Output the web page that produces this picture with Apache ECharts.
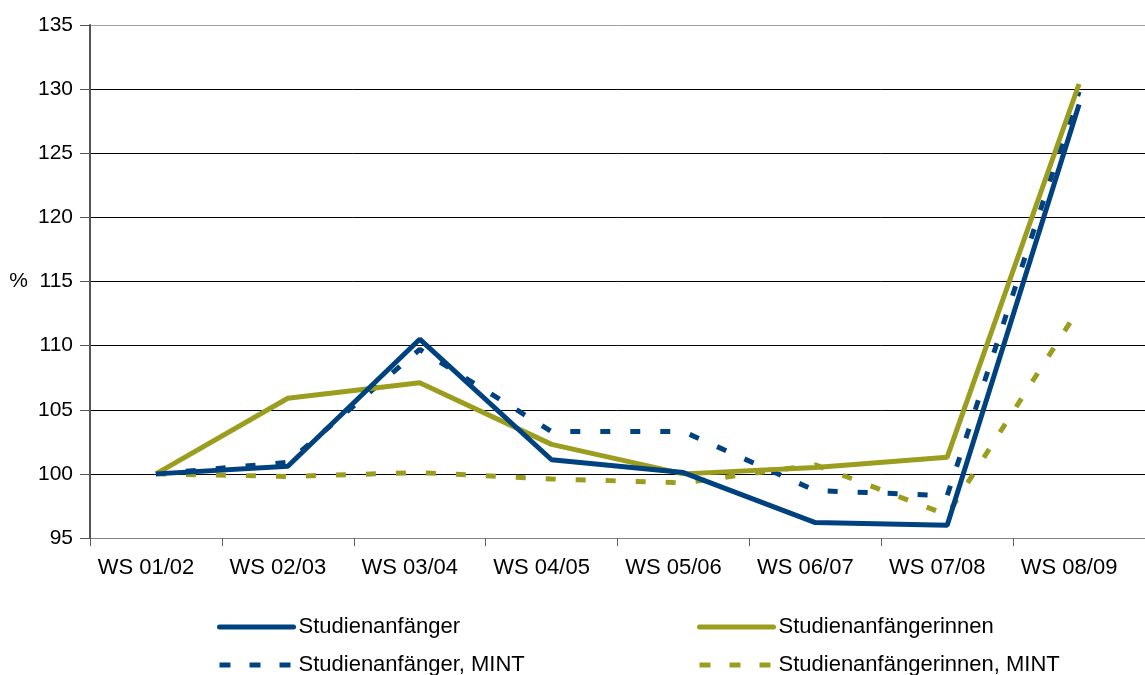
<!DOCTYPE html>
<html>
<head>
<meta charset="utf-8">
<script src="https://cdn.jsdelivr.net/npm/echarts@6/dist/echarts.min.js"></script>
<style>
  html, body { margin: 0; padding: 0; background: #fff; }
  #chart { width: 1145px; height: 675px; }
</style>
</head>
<body>
<div id="chart"></div>
<script>
const semester = ['WS 01/02', 'WS 02/03', 'WS 03/04', 'WS 04/05', 'WS 05/06', 'WS 06/07', 'WS 07/08', 'WS 08/09'];
const anfaenger = [100, 100.6, 110.5, 101.1, 100.1, 96.2, 96.0, 128.8];
const anfaengerinnen = [100, 105.9, 107.1, 102.3, 100.0, 100.5, 101.3, 130.4];
const anfaengerMint = [100, 100.9, 109.7, 103.3, 103.3, 98.7, 98.3, 129.8];
const anfaengerinnenMint = [100, 99.8, 100.1, 99.6, 99.3, 100.7, 96.8, 112.9];

const blau = '#00427f';
const oliv = '#9b9d1f';
const schrift = 'Liberation Sans, Arial, sans-serif';
const strich = [10, 20];

const chart = echarts.init(document.getElementById('chart'));

const linie = (name, data, color, dashed) => ({
  name: name,
  type: 'line',
  data: data,
  symbol: 'none',
  lineStyle: {
    color: color,
    width: 5,
    type: dashed ? strich : 'solid',
    cap: 'butt'
  },
  itemStyle: { color: color }
});

// eine Legende je Eintrag, damit die Spalten fest stehen
const legende = (name, color, dashed, left, top) => ({
  orient: 'horizontal',
  left: left,
  top: top,
  padding: 0,
  itemWidth: 74,
  itemHeight: 14,
  itemStyle: { opacity: 0 },
  lineStyle: { width: 5, color: color, type: dashed ? [11, 19] : 'solid', cap: dashed ? 'butt' : 'round' },
  textStyle: { color: '#000', fontSize: 22, fontFamily: schrift },
  data: [name]
});

chart.setOption({
  animation: false,
  textStyle: { fontFamily: schrift },
  grid: { left: 90, top: 25, right: -12, bottom: 137 },
  xAxis: {
    type: 'category',
    data: semester,
    boundaryGap: true,
    axisLine: { lineStyle: { color: '#808080', width: 1 } },
    axisTick: { show: true, length: 8, lineStyle: { color: '#606060' } },
    axisLabel: { color: '#000', fontSize: 22, margin: 19, padding: [0, 20, 0, 0], fontFamily: schrift },
    splitLine: { show: false }
  },
  yAxis: {
    type: 'value',
    min: 95,
    max: 135,
    interval: 5,
    name: '%',
    nameLocation: 'middle',
    nameRotate: 0,
    nameGap: 62,
    nameTextStyle: { color: '#000', fontSize: 21, fontFamily: schrift, align: 'right' },
    axisLine: { show: true, lineStyle: { color: '#555', width: 2 } },
    axisTick: { show: true, length: 10, lineStyle: { color: '#555' } },
    axisLabel: { color: '#000', fontSize: 21, margin: 17, fontFamily: schrift },
    splitLine: {
      lineStyle: {
        color: ['#000', '#000', '#000', '#000', '#000', '#000', '#000', '#000', '#a0a0a0'],
        width: 1
      }
    }
  },
  legend: [
    legende('Studienanfänger', blau, false, 217, 616),
    legende('Studienanfänger, MINT', blau, true, 217, 654),
    legende('Studienanfängerinnen', oliv, false, 697, 616),
    legende('Studienanfängerinnen, MINT', oliv, true, 697, 654)
  ],
  series: [
    linie('Studienanfängerinnen, MINT', anfaengerinnenMint, oliv, true),
    linie('Studienanfänger, MINT', anfaengerMint, blau, true),
    linie('Studienanfängerinnen', anfaengerinnen, oliv, false),
    linie('Studienanfänger', anfaenger, blau, false)
  ]
});
</script>
</body>
</html>
